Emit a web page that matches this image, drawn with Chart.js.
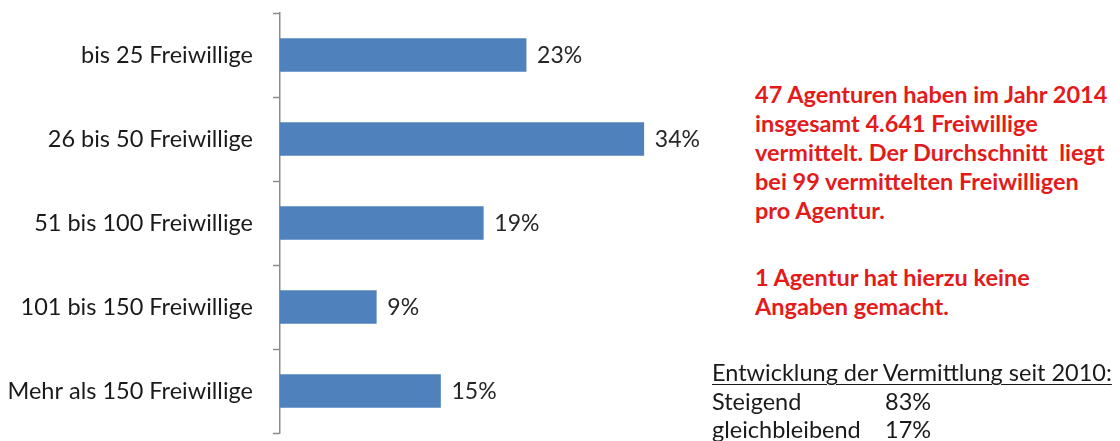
<!DOCTYPE html>
<html lang="de">
<head>
<meta charset="utf-8">
<script src="https://cdn.jsdelivr.net/npm/chart.js@4/dist/chart.umd.min.js"></script>
<style>
  html, body { margin: 0; padding: 0; background: #fff; }
  body { width: 1120px; height: 441px; position: relative; overflow: hidden; font-family: Lato, sans-serif; }
  #wrap { position: absolute; left: 0; top: 0; width: 720px; height: 441px; }
  .note { position: absolute; left: 755px; color: #e31b1b; font-weight: bold; font-size: 23.5px; line-height: 29px; white-space: pre; }
  .dev { position: absolute; left: 712px; top: 358px; color: #1a1a1a; font-size: 23.5px; line-height: 28.5px; white-space: pre; }
  .dev u { text-decoration-thickness: 1px; text-underline-offset: 3px; }
  .dev span { display: inline-block; width: 173px; }
</style>
</head>
<body>
<div id="wrap"><canvas id="freiwilligeChart"></canvas></div>

<div class="note" style="top: 80px;">47 Agenturen haben im Jahr 2014
insgesamt 4.641 Freiwillige
vermittelt. Der Durchschnitt  liegt
bei 99 vermittelten Freiwilligen
pro Agentur.</div>
<div class="note" style="top: 263px;">1 Agentur hat hierzu keine
Angaben gemacht.</div>

<div class="dev"><u>Entwicklung der Vermittlung seit 2010:</u>
<span>Steigend</span>83%
<span>gleichbleibend</span>17%</div>

<script>
// Anzahl vermittelter Freiwilliger pro Agentur
const groups = ['bis 25 Freiwillige', '26 bis 50 Freiwillige', '51 bis 100 Freiwillige', '101 bis 150 Freiwillige', 'Mehr als 150 Freiwillige'];
const shares = [23, 34, 19, 9, 15];

// Prozentwerte rechts neben den Balken
const barValues = {
  id: 'barValues',
  afterDatasetsDraw(chart) {
    const ctx = chart.ctx;
    const meta = chart.getDatasetMeta(0);
    ctx.save();
    ctx.font = '23px Lato, sans-serif';
    ctx.fillStyle = '#262626';
    ctx.textAlign = 'left';
    ctx.textBaseline = 'middle';
    meta.data.forEach((bar, i) => {
      ctx.fillText(shares[i] + '%', bar.x + 11, bar.y + 1);
    });
    ctx.restore();
  }
};

new Chart(document.getElementById('freiwilligeChart'), {
  type: 'bar',
  data: {
    labels: groups,
    datasets: [{
      data: shares,
      backgroundColor: '#4f81bd',
      borderWidth: 0,
      barThickness: 33
    }]
  },
  options: {
    indexAxis: 'y',
    responsive: true,
    maintainAspectRatio: false,
    animation: false,
    layout: { padding: { top: 13, bottom: 8, right: 12 } },
    plugins: {
      legend: { display: false },
      tooltip: { enabled: false }
    },
    scales: {
      x: { display: false, min: 0, max: 40 },
      y: {
        afterFit(scale) {
          scale.width = 280;
          // keine zusätzliche Höhe für die Beschriftungen oben/unten
          scale.paddingTop = 0;
          scale.paddingBottom = 0;
        },
        border: { display: true, color: '#8c8c8c', width: 1.5 },
        grid: {
          offset: true,
          drawOnChartArea: false,
          tickLength: 7,
          tickColor: '#8c8c8c',
          tickWidth: 1.5
        },
        ticks: {
          padding: 20,
          color: '#1a1a1a',
          font: { family: 'Lato, sans-serif', size: 23.5 }
        }
      }
    }
  },
  plugins: [barValues]
});
</script>
</body>
</html>
